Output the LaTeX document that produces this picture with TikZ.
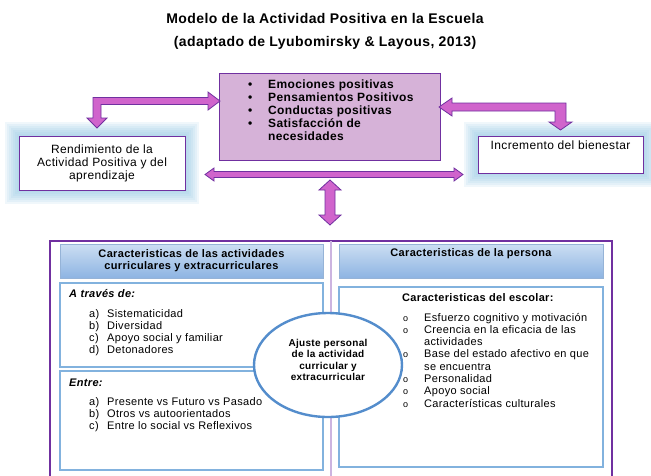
\documentclass[tikz,border=0pt]{standalone}
\usepackage{fontspec}
\setmainfont{Liberation Sans}[LetterSpace=3]
\usetikzlibrary{shapes.geometric,backgrounds}
\definecolor{frame}{RGB}{112,48,160}
\definecolor{arrowfill}{RGB}{208,100,204}
\definecolor{boxfill}{RGB}{214,178,216}
\definecolor{hdtop}{RGB}{204,222,243}
\definecolor{hdbot}{RGB}{141,180,226}
\definecolor{hdline}{RGB}{149,179,215}
\definecolor{cline}{RGB}{130,178,222}
\definecolor{ellline}{RGB}{84,141,204}
\definecolor{divline}{RGB}{204,180,224}
\definecolor{glow}{RGB}{140,195,225}
\begin{document}
\begin{tikzpicture}[x=1pt,y=-1pt,
  blockarrow/.style={fill=arrowfill, draw=frame, line width=0.8pt, line join=miter},
  sidebox/.style={draw=frame, line width=0.9pt, fill=white, inner sep=0pt, align=center, font=\fontsize{12}{13}\selectfont},
  header/.style={draw=hdline, line width=0.8pt, top color=hdtop, bottom color=hdbot, inner sep=0pt},
  content/.style={draw=cline, line width=1.2pt, fill=white, inner sep=0pt},
  txt/.style={inner sep=0pt, font=\fontsize{11}{12.3}\selectfont},
  boldtxt/.style={inner sep=0pt, font=\bfseries\fontsize{11}{11.5}\selectfont},
]
\useasboundingbox (0,0) rectangle (651,475);

% title
\node[inner sep=0pt, font=\bfseries\fontsize{14}{16}\selectfont] (title1) at (325,18) {Modelo de la Actividad Positiva en la Escuela};
\node[inner sep=0pt, font=\bfseries\fontsize{14}{16}\selectfont] (title2) at (325,43) {(adaptado de Lyubomirsky \& Layous, 2013)};

% central purple box
\node[draw=frame, line width=0.9pt, fill=boxfill, minimum width=221pt, minimum height=87pt, inner sep=0pt] (emo) at (329.5,116.5) {};
\node[inner sep=0pt, anchor=base west, font=\bfseries\fontsize{12}{13.2}\selectfont] (emolist) at (248,88)
 {\begin{tabular}[t]{@{}p{20pt}@{}l@{}}
  \textbullet & Emociones positivas\\
  \textbullet & Pensamientos Positivos\\
  \textbullet & Conductas positivas\\
  \textbullet & Satisfacción de\\
              & necesidades
  \end{tabular}};

% side boxes
\node[sidebox, minimum width=166pt, minimum height=54pt] (rend) at (102,163) {Rendimiento de la\\Actividad Positiva y del\\aprendizaje};
\node[sidebox, minimum width=165pt, minimum height=37pt] (incr) at (560.5,154.5) {};
\node[inner sep=0pt, font=\fontsize{12}{13}\selectfont] (incrtxt) at (560.5,145) {Incremento del bienestar};

\begin{scope}[on background layer]
\foreach \n in {rend,incr}{
  \foreach \d in {2,4,...,14}
    \fill[glow, opacity=0.13] ([shift={(-\d pt,\d pt)}]\n.north west) rectangle ([shift={(\d pt,-\d pt)}]\n.south east);
}
\end{scope}

% block arrows
\draw[blockarrow] (220,101) -- (208,110) -- (208,104.5) -- (101,104.5) -- (101,118) -- (107,118) -- (97,128) -- (87,118) -- (93,118) -- (93,97.5) -- (208,97.5) -- (208,92) -- cycle;
\draw[blockarrow] (439,107) -- (452,98) -- (452,103) -- (566,103) -- (566,122) -- (572,122) -- (560.5,130) -- (549,122) -- (555,122) -- (555,111) -- (452,111) -- (452,116) -- cycle;
\draw[blockarrow] (205,174.5) -- (214,168) -- (214,171.5) -- (454,171.5) -- (454,168) -- (463,174.5) -- (454,181) -- (454,177.5) -- (214,177.5) -- (214,181) -- cycle;
\draw[blockarrow] (330,180) -- (341,190) -- (335,190) -- (335,215) -- (341,215) -- (330,225) -- (319,215) -- (325,215) -- (325,190) -- (319,190) -- cycle;

% bottom frame
\draw[frame, line width=2.6pt] (50,480) -- (50,241) -- (612,241) -- (612,480);
\draw[divline, line width=1.5pt] (331,241) -- (331,480);

% headers
\node[header, minimum width=263pt, minimum height=34pt] (hleft) at (191.5,261) {};
\node[boldtxt, align=center] (hlefttxt) at (191.5,260.5) {Caracteristicas de las actividades\\curriculares y extracurriculares};
\node[header, minimum width=264pt, minimum height=34pt] (hright) at (471,261) {};
\node[boldtxt] (hrighttxt) at (471,254) {Caracteristicas de la persona};

% content boxes
\node[content, minimum width=263pt, minimum height=84pt] (boxA) at (191.5,325) {};
\node[content, minimum width=263pt, minimum height=99pt] (boxB) at (191.5,420.5) {};
\node[content, minimum width=264pt, minimum height=180pt] (boxC) at (471,377) {};

\node[inner sep=0pt, anchor=base west, font=\bfseries\itshape\fontsize{11}{12.3}\selectfont] (atraves) at (69,297) {A través de:};
\node[txt, anchor=base west] (listA) at (89,317)
 {\begin{tabular}[t]{@{}p{18pt}@{}l@{}}
  a) & Sistematicidad\\
  b) & Diversidad\\
  c) & Apoyo social y familiar\\
  d) & Detonadores
  \end{tabular}};
\node[inner sep=0pt, anchor=base west, font=\bfseries\itshape\fontsize{11}{12.3}\selectfont] (entre) at (69,386) {Entre:};
\node[txt, anchor=base west] (listB) at (89,405)
 {\begin{tabular}[t]{@{}p{18pt}@{}l@{}}
  a) & Presente vs Futuro vs Pasado\\
  b) & Otros vs autoorientados\\
  c) & Entre lo social vs Reflexivos
  \end{tabular}};

\node[boldtxt, anchor=base west] (escolar) at (402,301) {Caracteristicas del escolar:};
\node[txt, anchor=base west] (listC) at (403,321)
 {\begin{tabular}[t]{@{}p{21pt}@{}l@{}}
  {\fontsize{9}{9}\selectfont o} & Esfuerzo cognitivo y motivación\\
  {\fontsize{9}{9}\selectfont o} & Creencia en la eficacia de las\\
   & actividades\\
  {\fontsize{9}{9}\selectfont o} & Base del estado afectivo en que\\
   & se encuentra\\
  {\fontsize{9}{9}\selectfont o} & Personalidad\\
  {\fontsize{9}{9}\selectfont o} & Apoyo social\\
  {\fontsize{9}{9}\selectfont o} & Características culturales
  \end{tabular}};

% central ellipse
\node[ellipse, draw=ellline, line width=2.4pt, fill=white, minimum width=148pt, minimum height=104pt, inner sep=0pt] (ajuste) at (328,365) {};
\node[inner sep=0pt, align=center, font=\bfseries\fontsize{10}{11.3}\selectfont] (ajustetxt) at (328,360) {Ajuste personal\\de la actividad\\curricular y\\extracurricular};
\end{tikzpicture}
\end{document}
